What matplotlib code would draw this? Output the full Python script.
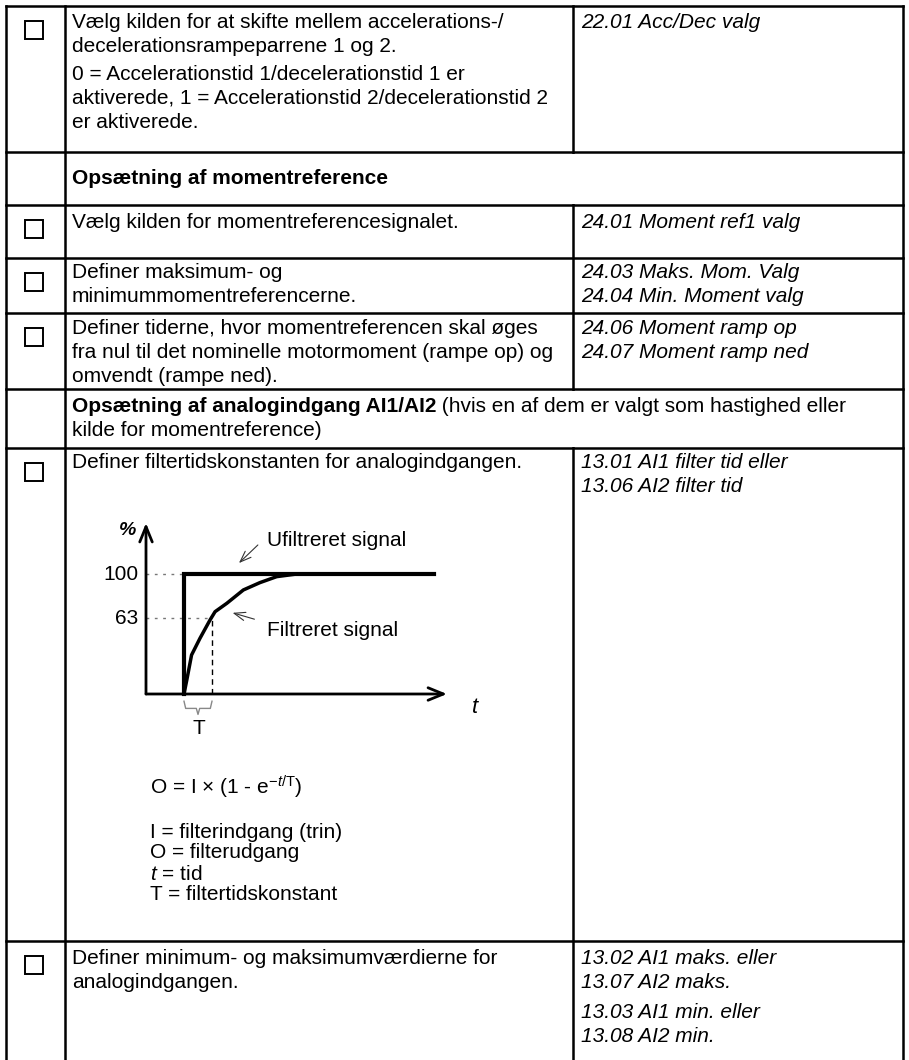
import matplotlib.pyplot as plt
from matplotlib.patches import Rectangle

plt.rcParams['font.family'] = ['Liberation Sans', 'DejaVu Sans']
plt.rcParams['mathtext.fontset'] = 'custom'
plt.rcParams['mathtext.rm'] = 'Liberation Sans'
plt.rcParams['mathtext.it'] = 'Liberation Sans:italic'
plt.rcParams['mathtext.bf'] = 'Liberation Sans:bold'

W, H = 909, 1060
FS = 15

# table grid (pixels)
col_x = [6, 65, 573, 903]
row_y = [6, 152, 205, 258, 313, 389, 448, 941, 1060]
checkbox_rows = [0, 2, 3, 4, 6, 7]

# row texts: (lines of middle column, y of first line), right column lines
mid_text = [
    (["Vælg kilden for at skifte mellem accelerations-/",
      "decelerationsrampeparrene 1 og 2."], 22),
    (["0 = Accelerationstid 1/decelerationstid 1 er",
      "aktiverede, 1 = Accelerationstid 2/decelerationstid 2",
      "er aktiverede."], 74),
    (["Vælg kilden for momentreferencesignalet."], 223),
    (["Definer maksimum- og", "minimummomentreferencerne."], 272),
    (["Definer tiderne, hvor momentreferencen skal øges",
      "fra nul til det nominelle motormoment (rampe op) og",
      "omvendt (rampe ned)."], 328),
    (["Definer filtertidskonstanten for analogindgangen."], 463),
    (["Definer minimum- og maksimumværdierne for",
      "analogindgangen."], 959),
]
right_text = [
    (["22.01 Acc/Dec valg"], 22),
    (["24.01 Moment ref1 valg"], 223),
    (["24.03 Maks. Mom. Valg", "24.04 Min. Moment valg"], 272),
    (["24.06 Moment ramp op", "24.07 Moment ramp ned"], 328),
    (["13.01 AI1 filter tid eller", "13.06 AI2 filter tid"], 463),
    (["13.02 AI1 maks. eller", "13.07 AI2 maks."], 959),
    (["13.03 AI1 min. eller", "13.08 AI2 min."], 1013),
]
heading1 = "Opsætning af momentreference"
heading2_bold = "Opsætning af analogindgang AI1/AI2"
heading2_rest = " (hvis en af dem er valgt som hastighed eller"
heading2_line2 = "kilde for momentreference)"

legend_lines = ["I = filterindgang (trin)", "O = filterudgang",
                "$t$ = tid", "T = filtertidskonstant"]

# step response diagram (t in units of T, value in %)
curve_t = [0, 0.1, 0.27, 0.57, 0.93, 1.11, 1.53, 2.12, 2.71, 3.31, 4.03]
curve_pct = [0, 11.7, 32.5, 46.4, 61.7, 68.6, 75.6, 86.7, 92.8, 97.8, 100]
step_t = [0, 0, 8.93]
step_pct = [0, 100, 100]
levels = [100, 63]
level_labels = ["100", "63"]
T_mark = 1.0

fig = plt.figure(figsize=(W / 100, H / 100), dpi=100)
ax = fig.add_axes([0, 0, 1, 1])
ax.set_xlim(0, W)
ax.set_ylim(H, 0)
ax.axis('off')

lw_tab = 1.8
for x in col_x:
    ax.plot([x, x], [row_y[0], H], color='black', lw=lw_tab, solid_capstyle='projecting')
for y in row_y[:-1]:
    ax.plot([col_x[0], col_x[-1]], [y, y], color='black', lw=lw_tab, solid_capstyle='projecting')
# heading rows span the two text columns
for r in (1, 5):
    ax.add_patch(Rectangle((col_x[2] - 2, row_y[r] + 1.5), 4, row_y[r + 1] - row_y[r] - 3,
                           facecolor='white', edgecolor='none', zorder=3))

for r in checkbox_rows:
    ax.add_patch(Rectangle((25, row_y[r] + 15), 18, 18, facecolor='none',
                           edgecolor='black', lw=1.4))

lh = 24
for lines, y0 in mid_text:
    for k, s in enumerate(lines):
        ax.text(72, y0 + k * lh, s, fontsize=FS, va='center', ha='left')
for lines, y0 in right_text:
    for k, s in enumerate(lines):
        ax.text(581, y0 + k * lh, s, fontsize=FS, va='center', ha='left', style='italic')

ax.text(72, 178, heading1, fontsize=FS, va='center', fontweight='bold')
hb = ax.text(72, 406, heading2_bold, fontsize=FS, va='center', fontweight='bold')
fig.canvas.draw()
bb = hb.get_window_extent()
x_end = bb.x1  # pixels == data x here
ax.text(x_end, 406, heading2_rest, fontsize=FS, va='center')
ax.text(72, 430, heading2_line2, fontsize=FS, va='center')

ax.text(150, 787, r"O = I × (1 - e$^{-t/\mathrm{T}}$)", fontsize=FS, va='center')
for k, s in enumerate(legend_lines):
    ax.text(150, 832 + k * 21, s, fontsize=FS, va='center')

# diagram axes: x_px = 184 + 28 t ; y_px = 694 - 1.2 pct
px0, px1, py0, py1 = 90, 490, 505, 760
d = fig.add_axes([px0 / W, 1 - py1 / H, (px1 - px0) / W, (py1 - py0) / H])
d.set_xlim((px0 - 184) / 28, (px1 - 184) / 28)
d.set_ylim((694 - py1) / 1.2, (694 - py0) / 1.2)
d.axis('off')

t_axis0 = (146 - 184) / 28
t_axis1 = (447 - 184) / 28
pct_top = (694 - 523) / 1.2
head = '->,head_length=1.1,head_width=0.45'
d.annotate('', xy=(t_axis1, 0), xytext=(t_axis0, 0),
           arrowprops=dict(arrowstyle=head, lw=2, color='black', shrinkA=0, shrinkB=0))
d.annotate('', xy=(t_axis0, pct_top), xytext=(t_axis0, 0),
           arrowprops=dict(arrowstyle=head, lw=2, color='black', shrinkA=0, shrinkB=0))

for lev, lab in zip(levels, level_labels):
    xe = 0 if lev == 100 else T_mark
    d.plot([t_axis0, xe], [lev, lev], color='#777777', lw=1, ls=(0, (2, 4)))
    d.text(-1.64, lev, lab, fontsize=FS, ha='right', va='center')
d.plot([T_mark, T_mark], [0, levels[1]], color='black', lw=1, ls=(0, (4, 3)))

d.plot(step_t, step_pct, color='black', lw=3, solid_joinstyle='miter')
d.plot(curve_t, curve_pct, color='black', lw=2.5)

d.text(-2.0, 136, '%', fontsize=FS - 1, fontweight='bold', style='italic', ha='center', va='center')
d.text(10.4, -11, 't', fontsize=FS + 1, style='italic', ha='center', va='center')
d.text(0.54, -29, 'T', fontsize=FS, ha='center', va='center')
d.plot([0, 0.06, 0.44, 0.5, 0.56, 0.94, 1.0],
       [-6, -12, -12, -17, -12, -12, -6], color='#888888', lw=1)

d.text(2.96, 128, 'Ufiltreret signal', fontsize=FS, va='center')
d.annotate('', xy=(1.89, 107.5), xytext=(2.71, 125.8),
           arrowprops=dict(arrowstyle='->,head_length=0.8,head_width=0.3', lw=0.8, color='#333333'))
d.text(2.96, 53, 'Filtreret signal', fontsize=FS, va='center')
d.annotate('', xy=(1.64, 68.3), xytext=(2.61, 61.7),
           arrowprops=dict(arrowstyle='->,head_length=0.8,head_width=0.3', lw=0.8, color='#333333'))

fig.savefig('out.png', dpi=100)
